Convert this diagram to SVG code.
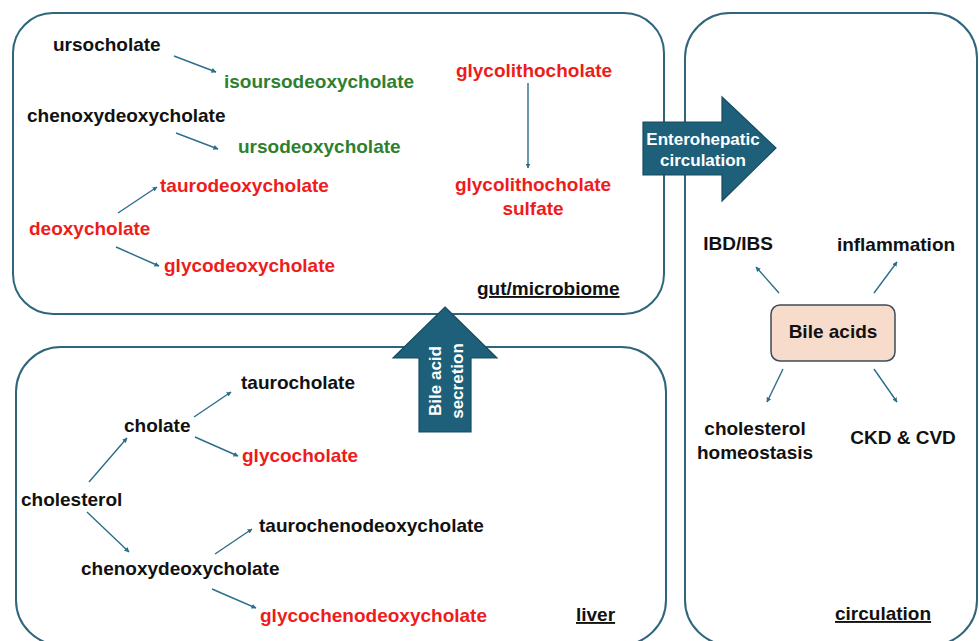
<svg xmlns="http://www.w3.org/2000/svg" width="979" height="641" viewBox="0 0 979 641">
<style>
.box{fill:#fff;stroke:#2f667c;stroke-width:2}
.t{font-family:"Liberation Sans",Arial,sans-serif;font-weight:bold;font-size:19px;fill:#111}
.r{fill:#ee1c1c}
.g{fill:#2f7f2f}
.w{fill:#fff;font-size:17px}
.u{text-decoration:underline}
.c{stroke:#2b6d8c;stroke-width:1.4;fill:none;marker-end:url(#ah)}
.big{fill:#1e5f79;stroke:#174c61;stroke-width:1.2}
</style>
<defs>
<marker id="ah" viewBox="0 0 10 10" refX="9" refY="5" markerWidth="5" markerHeight="5" orient="auto" markerUnits="userSpaceOnUse">
<path d="M0,0 L10,5 L0,10 z" fill="#2b6d8c"/>
</marker>
</defs>
<rect width="979" height="641" fill="#fff"/>
<g id="gut">
<rect class="box" x="13" y="13" width="651" height="301" rx="40"/>
<text class="t u" x="477" y="295">gut/microbiome</text>
</g>
<g id="liver">
<rect class="box" x="16" y="347" width="650" height="298" rx="45"/>
<text class="t u" x="576" y="621">liver</text>
</g>
<g id="circulation">
<rect class="box" x="685" y="13" width="292" height="632" rx="45"/>
<text class="t u" x="835" y="620">circulation</text>
</g>
<g id="n-ursocholate"><text class="t" x="53" y="51">ursocholate</text></g>
<g id="n-isoursodeoxycholate"><text class="t g" x="224" y="88">isoursodeoxycholate</text></g>
<g id="n-chenoxydeoxycholate-gut"><text class="t" x="27" y="122">chenoxydeoxycholate</text></g>
<g id="n-ursodeoxycholate"><text class="t g" x="238" y="153">ursodeoxycholate</text></g>
<g id="n-taurodeoxycholate"><text class="t r" x="160" y="192">taurodeoxycholate</text></g>
<g id="n-deoxycholate"><text class="t r" x="29" y="235">deoxycholate</text></g>
<g id="n-glycodeoxycholate"><text class="t r" x="164" y="272">glycodeoxycholate</text></g>
<g id="n-glycolithocholate"><text class="t r" x="534" y="77" text-anchor="middle">glycolithocholate</text></g>
<g id="n-glycolithocholate-sulfate"><text class="t r" text-anchor="middle"><tspan x="533" y="191">glycolithocholate</tspan><tspan x="533" y="215">sulfate</tspan></text></g>
<g id="n-taurocholate"><text class="t" x="241" y="389">taurocholate</text></g>
<g id="n-cholate"><text class="t" x="124" y="432">cholate</text></g>
<g id="n-glycocholate"><text class="t r" x="242" y="462">glycocholate</text></g>
<g id="n-cholesterol"><text class="t" x="21" y="506">cholesterol</text></g>
<g id="n-taurochenodeoxycholate"><text class="t" x="259" y="532">taurochenodeoxycholate</text></g>
<g id="n-chenoxydeoxycholate-liver"><text class="t" x="81" y="575">chenoxydeoxycholate</text></g>
<g id="n-glycochenodeoxycholate"><text class="t r" x="260" y="622">glycochenodeoxycholate</text></g>
<g id="n-bileacids">
<rect x="771" y="305" width="124" height="56" rx="9" fill="#f8dccb" stroke="#3d4b57" stroke-width="1.5"/>
<text class="t" x="833" y="338" text-anchor="middle">Bile acids</text>
</g>
<g id="n-ibd"><text class="t" x="738" y="250" text-anchor="middle">IBD/IBS</text></g>
<g id="n-inflammation"><text class="t" x="896" y="251" text-anchor="middle">inflammation</text></g>
<g id="n-cholhomeo"><text class="t" text-anchor="middle"><tspan x="755" y="435">cholesterol</tspan><tspan x="755" y="459">homeostasis</tspan></text></g>
<g id="n-ckd"><text class="t" x="903" y="444" text-anchor="middle">CKD &amp; CVD</text></g>
<g id="a-enterohepatic">
<path class="big" d="M643,122 L722,122 L722,97 L776,148 L722,201 L722,175 L643,175 Z"/>
<text class="t w" text-anchor="middle"><tspan x="703" y="145">Enterohepatic</tspan><tspan x="703" y="166">circulation</tspan></text>
</g>
<g id="a-secretion">
<path class="big" d="M445,307 L497,358 L471,358 L471,432 L419,432 L419,358 L393,358 Z"/>
<text class="t w" text-anchor="middle" transform="translate(446,381) rotate(-90)"><tspan x="0" y="-5">Bile acid</tspan><tspan x="0" y="17">secretion</tspan></text>
</g>
<g id="connectors">
<line class="c" x1="174" y1="56" x2="216" y2="72"/>
<line class="c" x1="176" y1="133" x2="218" y2="149"/>
<line class="c" x1="118" y1="213" x2="157" y2="187"/>
<line class="c" x1="116" y1="247" x2="159" y2="266"/>
<line class="c" x1="528" y1="83" x2="528" y2="168"/>
<line class="c" x1="194" y1="417" x2="231" y2="392"/>
<line class="c" x1="195" y1="437" x2="238" y2="456"/>
<line class="c" x1="89" y1="482" x2="127" y2="438"/>
<line class="c" x1="87" y1="512" x2="129" y2="552"/>
<line class="c" x1="215" y1="554" x2="252" y2="529"/>
<line class="c" x1="212" y1="589" x2="256" y2="608"/>
<line class="c" x1="779" y1="293" x2="756" y2="267"/>
<line class="c" x1="874" y1="293" x2="897" y2="262"/>
<line class="c" x1="783" y1="369" x2="767" y2="402"/>
<line class="c" x1="874" y1="369" x2="897" y2="402"/>
</g>
</svg>
